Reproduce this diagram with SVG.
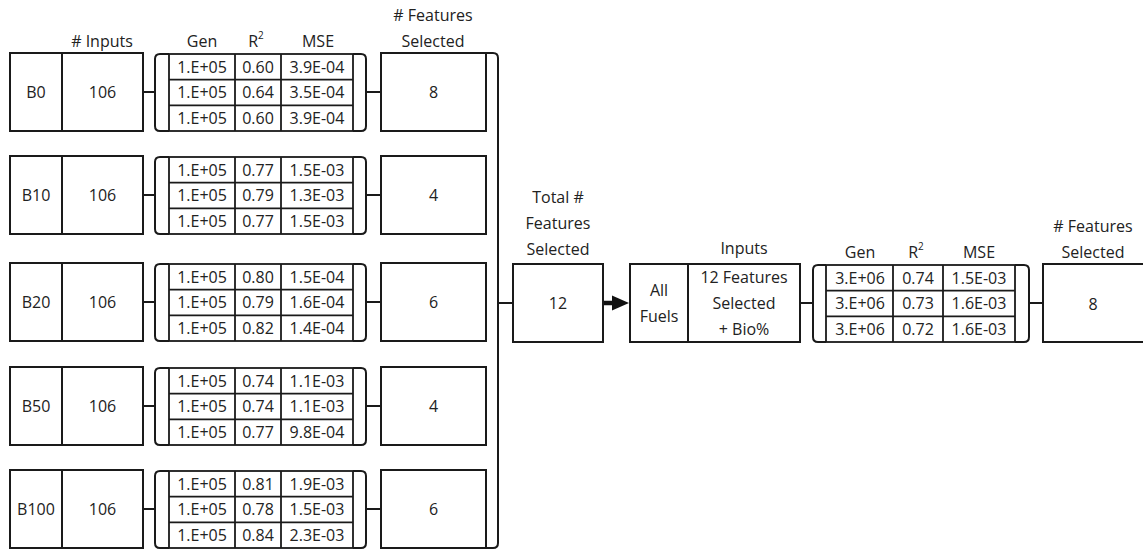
<svg xmlns="http://www.w3.org/2000/svg" width="1143" height="550" viewBox="0 0 1143 550">
<style>
text{font-family:"Open Sans","Liberation Sans",sans-serif;font-size:16px;fill:#222;text-anchor:middle}
.b{fill:#fff;stroke:#1a1a1a;stroke-width:2}
.l{fill:none;stroke:#1a1a1a;stroke-width:2}
.t{fill:none;stroke:#1a1a1a;stroke-width:1.8}
sup{font-size:10px}
</style>
<defs>
<g id="blk">
<rect class="b" x="10" y="0" width="133" height="78"/>
<line class="l" x1="62" y1="0" x2="62" y2="78"/>
<path class="l" d="M169,1 H160 Q155,1 155,6 V73 Q155,78 160,78 H169"/>
<line class="l" x1="143" y1="39" x2="155" y2="39"/>
<rect class="t" x="169" y="1" width="184" height="77"/>
<line class="t" x1="169" y1="26.7" x2="353" y2="26.7"/>
<line class="t" x1="169" y1="52.3" x2="353" y2="52.3"/>
<line class="t" x1="235" y1="1" x2="235" y2="78"/>
<line class="t" x1="281" y1="1" x2="281" y2="78"/>
<path class="l" d="M353,1 H361 Q366,1 366,6 V73 Q366,78 361,78 H353"/>
<line class="l" x1="366" y1="39" x2="381" y2="39"/>
<rect class="b" x="381" y="0" width="105" height="78"/>
<text x="102.5" y="45">106</text>
<text x="202" y="19.5">1.E+05</text>
<text x="202" y="45">1.E+05</text>
<text x="202" y="70.7">1.E+05</text>
</g>
</defs>
<g id="headers">
<text x="102" y="47"># Inputs</text>
<text x="202" y="47">Gen</text>
<text x="256" y="47">R<tspan font-size="10" dy="-8">2</tspan></text>
<text x="318" y="47">MSE</text>
<text x="433" y="21"># Features</text>
<text x="433" y="47">Selected</text>
</g>
<g id="B0" transform="translate(0,53)">
<use href="#blk"/>
<text x="36" y="45">B0</text>
<text x="258" y="19.5">0.60</text><text x="317" y="19.5">3.9E-04</text>
<text x="258" y="45">0.64</text><text x="317" y="45">3.5E-04</text>
<text x="258" y="70.7">0.60</text><text x="317" y="70.7">3.9E-04</text>
<text x="433.5" y="45">8</text>
</g>
<g id="B10" transform="translate(0,156)">
<use href="#blk"/>
<text x="36" y="45">B10</text>
<text x="258" y="19.5">0.77</text><text x="317" y="19.5">1.5E-03</text>
<text x="258" y="45">0.79</text><text x="317" y="45">1.3E-03</text>
<text x="258" y="70.7">0.77</text><text x="317" y="70.7">1.5E-03</text>
<text x="433.5" y="45">4</text>
</g>
<g id="B20" transform="translate(0,263)">
<use href="#blk"/>
<text x="36" y="45">B20</text>
<text x="258" y="19.5">0.80</text><text x="317" y="19.5">1.5E-04</text>
<text x="258" y="45">0.79</text><text x="317" y="45">1.6E-04</text>
<text x="258" y="70.7">0.82</text><text x="317" y="70.7">1.4E-04</text>
<text x="433.5" y="45">6</text>
</g>
<g id="B50" transform="translate(0,367)">
<use href="#blk"/>
<text x="36" y="45">B50</text>
<text x="258" y="19.5">0.74</text><text x="317" y="19.5">1.1E-03</text>
<text x="258" y="45">0.74</text><text x="317" y="45">1.1E-03</text>
<text x="258" y="70.7">0.77</text><text x="317" y="70.7">9.8E-04</text>
<text x="433.5" y="45">4</text>
</g>
<g id="B100" transform="translate(0,470)">
<use href="#blk"/>
<text x="36" y="45">B100</text>
<text x="258" y="19.5">0.81</text><text x="317" y="19.5">1.9E-03</text>
<text x="258" y="45">0.78</text><text x="317" y="45">1.5E-03</text>
<text x="258" y="70.7">0.84</text><text x="317" y="70.7">2.3E-03</text>
<text x="433.5" y="45">6</text>
</g>
<g id="connectors">
<path class="l" d="M486,53 H493 Q498,53 498,58 V543 Q498,548 493,548 H486"/>
<line class="l" x1="498" y1="303" x2="513" y2="303"/>
<line x1="603" y1="303" x2="614" y2="303" stroke="#111" stroke-width="4.5"/>
<polygon points="612,295.5 629,303 612,310.5" fill="#111"/>
<line class="l" x1="800" y1="303" x2="813" y2="303"/>
<line class="l" x1="1029" y1="303" x2="1043" y2="303"/>
</g>
<g id="total">
<text x="558" y="203">Total #</text>
<text x="558" y="229">Features</text>
<text x="558" y="255">Selected</text>
<rect class="b" x="513" y="264" width="90" height="78"/>
<text x="558" y="309">12</text>
</g>
<g id="allfuels">
<text x="744" y="254">Inputs</text>
<rect class="b" x="630" y="264" width="170" height="78"/>
<line class="l" x1="688" y1="264" x2="688" y2="342"/>
<text x="659" y="296">All</text>
<text x="659" y="322">Fuels</text>
<text x="744" y="283">12 Features</text>
<text x="744" y="309">Selected</text>
<text x="744" y="335">+ Bio%</text>
</g>
<g id="final-table">
<text x="860" y="258">Gen</text>
<text x="916" y="258">R<tspan font-size="10" dy="-8">2</tspan></text>
<text x="979" y="258">MSE</text>
<path class="l" d="M826,265 H818 Q813,265 813,270 V337 Q813,342 818,342 H826"/>
<rect class="t" x="826" y="265" width="189" height="77"/>
<line class="t" x1="826" y1="290.7" x2="1015" y2="290.7"/>
<line class="t" x1="826" y1="316.3" x2="1015" y2="316.3"/>
<line class="t" x1="893" y1="265" x2="893" y2="342"/>
<line class="t" x1="943" y1="265" x2="943" y2="342"/>
<path class="l" d="M1015,265 H1024 Q1029,265 1029,270 V337 Q1029,342 1024,342 H1015"/>
<text x="860" y="283.5">3.E+06</text><text x="918" y="283.5">0.74</text><text x="979" y="283.5">1.5E-03</text>
<text x="860" y="309">3.E+06</text><text x="918" y="309">0.73</text><text x="979" y="309">1.6E-03</text>
<text x="860" y="334.7">3.E+06</text><text x="918" y="334.7">0.72</text><text x="979" y="334.7">1.6E-03</text>
</g>
<g id="final-features">
<text x="1093" y="232"># Features</text>
<text x="1093" y="258">Selected</text>
<rect class="b" x="1043" y="264" width="110" height="78"/>
<text x="1093" y="310">8</text>
</g>
</svg>
